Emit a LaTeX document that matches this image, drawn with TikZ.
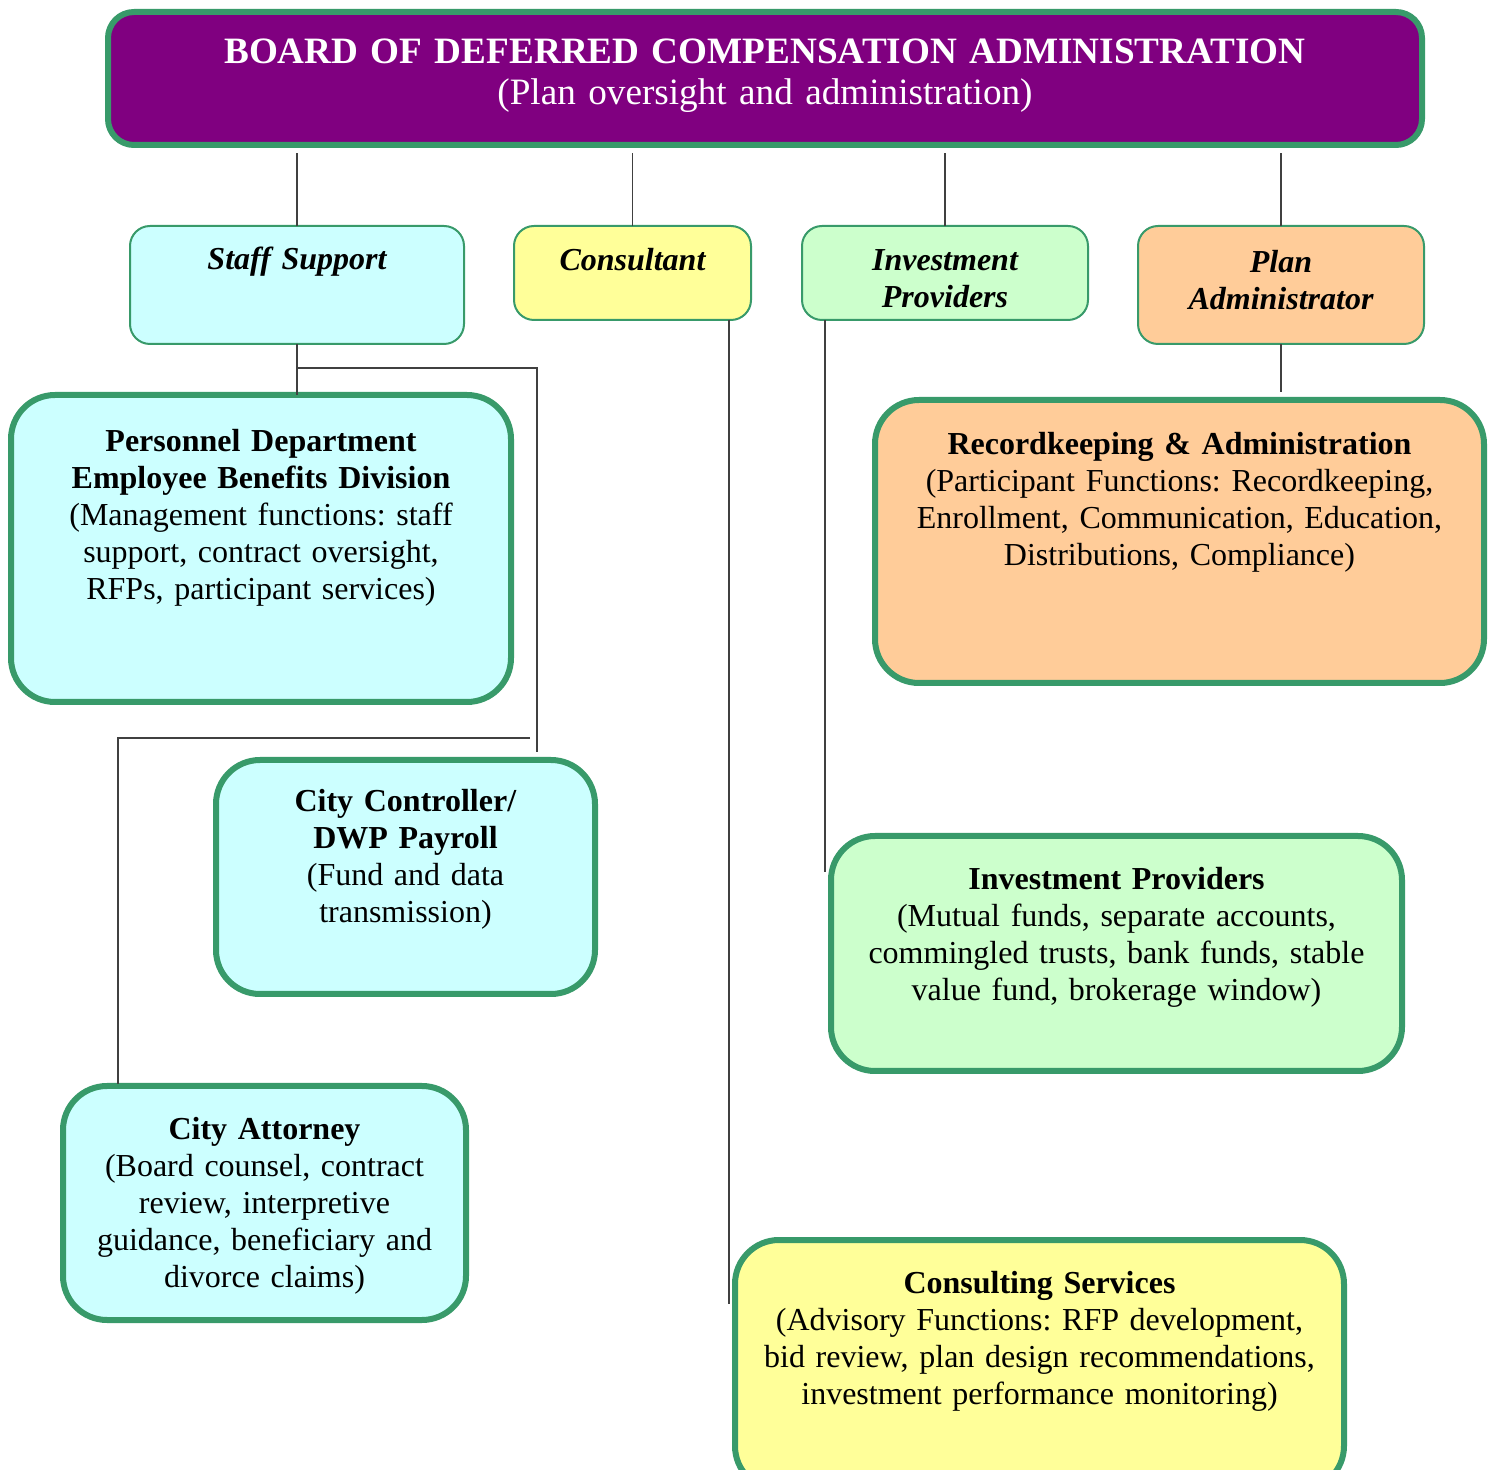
\documentclass[tikz,border=0pt]{standalone}
\usepackage{fontspec}
\setmainfont{Liberation Serif}
\usetikzlibrary{positioning}
\usetikzlibrary{calc}
\definecolor{boardpurple}{HTML}{800080}
\definecolor{edgegreen}{HTML}{389A6A}
\definecolor{linegray}{HTML}{404040}
\definecolor{staffcyan}{HTML}{CCFFFF}
\definecolor{consultyellow}{HTML}{FFFF99}
\definecolor{investgreen}{HTML}{CCFFCC}
\definecolor{planpeach}{HTML}{FFCC99}
\newcommand{\bodyfont}{\fontsize{16}{18.5}\selectfont\frenchspacing}

\begin{document}
\begin{tikzpicture}[align=center, x=0.5pt, y=-0.5pt]
        \bodyfont
        \useasboundingbox (0,0) rectangle (1496,1470);
       \tikzstyle{head} = [
            rectangle,
            draw=edgegreen,
            line width=1pt,
            rounded corners=10pt,
            inner sep=0pt,
            outer sep=0pt,
            anchor=north,
            font=\bfseries\itshape
       ]
       \tikzstyle{unit} = [
            rectangle,
            draw=edgegreen,
            line width=3pt,
            rounded corners=22pt,
            inner sep=0pt,
            outer sep=0pt,
            anchor=north
       ]
       \tikzstyle{link} = [draw=linegray, line width=0.8pt]

       \node (board) at (765,12) [unit, rounded corners=13pt, fill=boardpurple, text=white, minimum width=657pt, text width=640pt, text height=26pt, text depth=40.5pt, font=\fontsize{18.6}{20.5}\selectfont] {\textbf{BOARD OF DEFERRED COMPENSATION ADMINISTRATION}\\(Plan oversight and administration)};

       \node (staff) at (297,226) [head, fill=staffcyan, minimum width=167pt, text width=160pt, text height=22pt, text depth=37pt] {Staff Support};
       \node (consult) at (632.5,226) [head, fill=consultyellow, minimum width=118.5pt, text width=112pt, text height=22.5pt, text depth=24.5pt] {Consultant};
       \node (invsmall) at (945,226) [head, fill=investgreen, minimum width=143pt, text width=136pt, text height=22.5pt, text depth=24.5pt] {Investment\\Providers};
       \node (planadm) at (1281,226) [head, fill=planpeach, minimum width=143pt, text width=136pt, text height=23.5pt, text depth=35.5pt] {Plan\\Administrator};

       \node (personnel) at (261,395) [unit, fill=staffcyan, minimum width=250pt, text width=244pt, text height=28.5pt, text depth=125pt] {\textbf{Personnel Department}\\\textbf{Employee Benefits Division}\\(Management functions: staff\\support, contract oversight,\\RFPs, participant services)};
       \node (records) at (1179.5,400) [unit, fill=planpeach, minimum width=304.5pt, text width=298pt, text height=27.5pt, text depth=114pt] {\textbf{Recordkeeping \& Administration}\\(Participant Functions: Recordkeeping,\\Enrollment, Communication, Education,\\Distributions, Compliance)};
       \node (controller) at (405.5,760) [unit, fill=staffcyan, minimum width=189.5pt, text width=183pt, text height=26pt, text depth=91pt] {\textbf{City Controller/}\\\textbf{DWP Payroll}\\(Fund and data\\transmission)};
       \node (invprov) at (1116.5,836) [unit, fill=investgreen, minimum width=285.5pt, text width=279pt, text height=27pt, text depth=90.5pt] {\textbf{Investment Providers}\\(Mutual funds, separate accounts,\\commingled trusts, bank funds, stable\\value fund, brokerage window)};
       \node (attorney) at (264.5,1086) [unit, fill=staffcyan, minimum width=201.5pt, text width=195pt, text height=26.5pt, text depth=90.5pt] {\textbf{City Attorney}\\(Board counsel, contract\\review, interpretive\\guidance, beneficiary and\\divorce claims)};
       \node (consulting) at (1039.5,1240) [unit, fill=consultyellow, minimum width=304.5pt, text width=298pt, text height=26.5pt, text depth=98.5pt] {\textbf{Consulting Services}\\(Advisory Functions: RFP development,\\bid review, plan design recommendations,\\investment performance monitoring)};

       % free ends of the connectors
       \coordinate (split) at ($(staff.south)+(0,24)$);
       \coordinate (ctrltop) at ($(controller.north west)+(321,-8)$);
       \coordinate (attbend) at ($(controller.north west)+(314,-22)$);
       \coordinate (atttop) at ($(attorney.north west)+(55,-2)$);
       \coordinate (cnsfoot) at ($(consulting.north west)+(-6,64)$);
       \coordinate (invfoot) at ($(invprov.north west)+(-6,36)$);

       \foreach \n in {staff, consult, invsmall, planadm}
           \draw[link, shorten >=4pt] (\n.north) -- (\n.north |- board.south);
       \draw[link] (staff.south) -- (staff.south |- personnel.north);
       \draw[link] (split) -| (ctrltop);
       \draw[link] (attbend) -| (atttop);
       \draw[link] (consult.south east -| cnsfoot) -- (cnsfoot);
       \draw[link] (invsmall.south west -| invfoot) -- (invfoot);
       \draw[link, shorten >=4pt] (planadm.south) -- (planadm.south |- records.north);
    \end{tikzpicture}
\end{document}
